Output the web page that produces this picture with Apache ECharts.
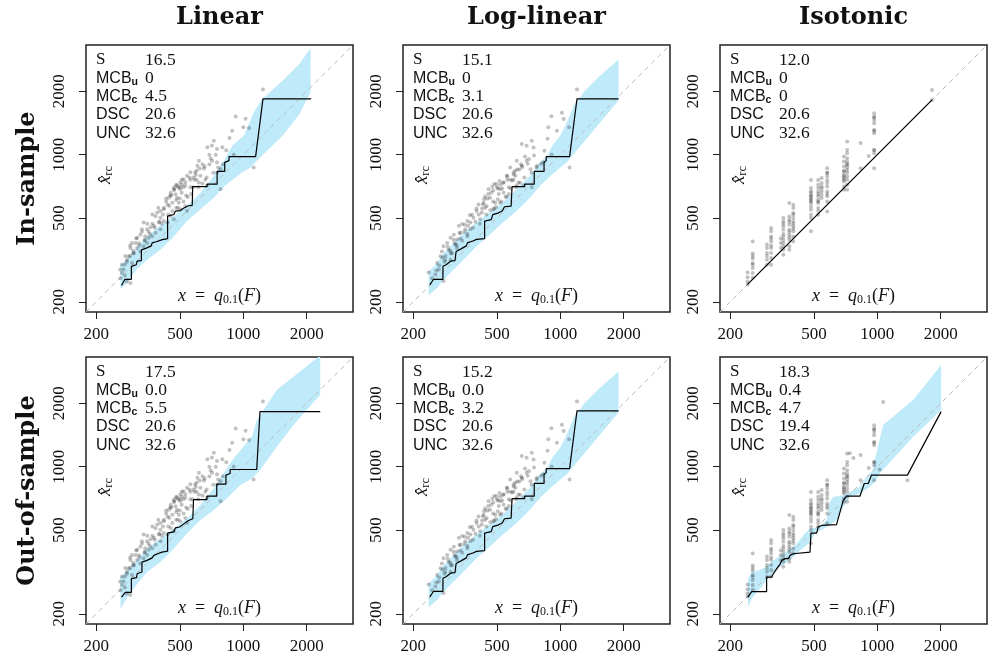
<!DOCTYPE html>
<html><head><meta charset="utf-8">
<script src="https://cdn.jsdelivr.net/npm/echarts@6/dist/echarts.min.js"></script>
<style>html,body{margin:0;padding:0;background:#fff}#c{width:992px;height:659px}</style>
</head><body><div id="c"></div>
<script>
// ---------- labels ----------
const colTitles = ['Linear', 'Log-linear', 'Isotonic'];
const rowTitles = ['In-sample', 'Out-of-sample'];
const tickValues = [200, 500, 1000, 2000];
const statNames = ['S', 'MCB_u', 'MCB_c', 'DSC', 'UNC'];
const statsLinIn  = ['16.5', '0',   '4.5', '20.6', '32.6'];
const statsLlIn   = ['15.1', '0',   '3.1', '20.6', '32.6'];
const statsIsoIn  = ['12.0', '0',   '0',   '20.6', '32.6'];
const statsLinOut = ['17.5', '0.0', '5.5', '20.6', '32.6'];
const statsLlOut  = ['15.2', '0.0', '3.2', '20.6', '32.6'];
const statsIsoOut = ['18.3', '0.4', '4.7', '19.4', '32.6'];

// ---------- scatter: (forecast quantile, observation) ----------
const linPts = [[1240,2040],[920,1520],[1025,1480],[1065,1340],[1000,1350],[885,1300],[725,1165],[710,1105],[795,1085],[675,1085],[750,1065],[750,920],[711,937],[615,937],[605,885],[560,825],[580,780],[540,795],[520,765],[502,738],[530,713],[590,823],[626,794],[615,738],[485,713],[468,686],[502,686],[452,660],[476,648],[485,625],[444,625],[460,592],[494,592],[437,580],[419,550],[404,540],[390,531],[383,510],[404,502],[419,484],[397,477],[376,460],[363,452],[349,442],[336,477],[330,442],[324,417],[342,410],[355,403],[313,403],[308,381],[296,381],[291,360],[313,360],[324,347],[302,340],[285,329],[280,317],[296,306],[274,301],[270,285],[265,274],[261,259],[274,267],[280,250],[291,246],[1120,870],[780,686],[673,713],[751,823],[780,854],[530,570],[540,540],[502,550],[452,511],[468,494],[437,477],[404,442],[383,426],[369,410],[349,381],[336,367],
 [470,680],[490,700],[510,720],[455,640],[520,700],[430,600],[445,570],[415,520],[400,480],[370,470],[355,430],[340,395],[320,380],[300,350],[290,330],[560,760],[600,760],[650,860],[690,1000],[560,700],[600,840],[640,900],[660,760],[480,610],[510,660],[535,640],
 [440,520],[450,640],[460,540],[470,700],[480,720],[490,560],[500,700],[510,760],[520,600],[530,740],[545,630],[555,780],[565,650],[575,700],[585,760],[595,800],[610,700],[620,860],[640,730],[655,880],[670,780],[690,900],[700,960],[720,820],[740,1000],[760,870],[800,900],[830,1050],[860,1200],[900,1000],[420,560],[430,620],[410,470],[395,560],[380,450],[370,520],[360,420],[350,470],[340,390],[330,430],[320,370],[310,400],[300,340],[290,370],[280,310],[275,330],[265,300],[260,285],[480,560],[500,620]];
const llPts = [[1200,2040],[907,1523],[1018,1580],[1037,1479],[877,1350],[964,1301],[1100,1350],[732,1166],[692,1104],[746,1083],[656,1125],[621,937],[692,937],[656,886],[578,870],[600,823],[557,794],[612,794],[578,760],[632,738],[538,738],[498,725],[517,686],[480,676],[456,686],[538,660],[439,633],[464,625],[432,592],[491,592],[447,570],[409,580],[400,540],[424,531],[381,519],[387,502],[374,477],[362,484],[342,468],[330,460],[354,442],[336,426],[312,417],[301,403],[323,396],[318,374],[290,381],[279,367],[295,354],[306,340],[274,347],[270,329],[284,317],[260,306],[265,285],[255,270],[246,259],[237,276],[279,251],[1107,870],[831,920],[775,886],[722,854],[670,713],[732,700],[621,713],[557,633],[517,592],[480,550],[416,494],[374,442],[362,410],[323,360],[301,317],
 [470,660],[500,700],[520,720],[450,620],[530,690],[430,580],[440,560],[410,520],[395,480],[365,460],[350,430],[335,400],[315,380],[300,350],[285,330],[560,760],[600,760],[640,850],[680,980],[570,700],[610,840],[650,900],[480,600],[510,650],
 [445,520],[455,650],[465,545],[475,705],[485,725],[495,565],[505,690],[515,750],[525,600],[535,735],[550,630],[560,790],[570,650],[580,690],[590,755],[600,805],[615,700],[625,850],[645,735],[660,875],[675,780],[700,905],[710,955],[730,820],[750,990],[770,870],[810,905],[840,1045],[870,1190],[910,1000],[425,555],[435,615],[415,470],[400,555],[385,450],[372,515],[362,420],[352,465],[342,390],[332,425],[322,370],[311,395],[302,340],[292,365],[282,310],[276,325],[266,298],[258,282],[485,555],[505,615]];
// isotonic forecasts take few distinct values: stripes
const isoStripeX = [242,256,299,313,348,358,382,399,484,524,544,578,694,719,833,911,966];
const isoStripeY = [
 [276,250,242,262],
 [387,339,321,306,290,274,260,330,300],
 [374,360,341,317,300,330],
 [449,433,409,387,360,341,323,300,400,370],
 [381,360,400],
 [482,457,440,409,395,381,367,354,335,420,500,470],
 [589,509,491,465,440,417,395,367,354,480,430,405],
 [578,558,528,500,482,457,433,409,387,520,470,445],
 [759,694,657,634,611,589,568,548,519,500,433,640,620,600,670],
 [759,719,694,669,634,611,589,558,519,650,600,540],
 [774,733,706,669,645,622,690],
 [863,818,759,733,706,669,634,600,538,820,790,650],
 [980,928,878,832,802,774,745,706,681,840,790,760],
 [1154,1054,1016,962,928,895,847,787,719,681,870,820,900,760],
 [1135,863],
 [987],
 [1573,1516,1462,1410,1311,1264,1054,1016,863,1300,1500,1050]
];
const isoInExtra  = [[1820,2030],[1820,1820]];
const isoOutExtra = [[1066,2030],[1390,862],[1026,970],[741,1158],[770,1100]];

// ---------- recalibration curves ----------
const linInStep = [[264,239],[274,256],[294,256],[294,295],[310,300],[313,312],[328,314],[328,353],[346,360],[365,369],[369,381],[390,387],[412,395],[437,399],[437,511],[468,520],[476,540],[502,543],[520,557],[548,572],[572,575],[575,706],[673,706],[673,724],[751,724],[751,833],[816,833],[816,920],[855,937],[855,979],[1144,979],[1240,1842],[2100,1842]];
const linOutStep = [[264,240],[275,253],[294,253],[294,294],[311,297],[313,310],[330,316],[330,352],[349,359],[369,369],[376,379],[392,386],[411,393],[437,397],[437,484],[467,490],[476,512],[498,517],[530,541],[549,555],[576,566],[580,698],[672,698],[672,724],[748,724],[748,826],[827,826],[827,912],[866,928],[866,970],[1158,970],[1200,1826],[2320,1826]];
const llStep = [[240,241],[250,256],[277,256],[277,295],[287,300],[301,312],[316,314],[320,347],[336,356],[358,369],[362,381],[387,390],[400,396],[437,399],[437,484],[470,492],[478,519],[505,528],[530,540],[543,566],[584,570],[590,706],[677,706],[677,724],[752,724],[752,833],[837,833],[837,920],[857,937],[857,979],[1107,979],[1200,1842],[1890,1842]];
const isoInStep = [[242,242],[1820,1820]];
const isoOutStep = [[243,240],[253,255],[298,255],[298,299],[315,299],[321,310],[333,328],[345,344],[352,359],[365,366],[378,366],[385,379],[399,386],[405,393],[479,393],[484,484],[515,484],[524,517],[544,526],[640,531],[689,692],[714,724],[827,724],[867,832],[906,832],[938,912],[1390,912],[2010,1826]];

// ---------- consistency bands (upper / lower edges) ----------
const linInHi = [[261,300],[280,317],[313,360],[349,410],[404,460],[468,511],[540,570],[626,660],[724,794],[809,937],[886,1103],[1007,1232],[1123,1590],[1210,1809],[1540,2250],[1850,2700],[2088,3204]];
const linInLo = [[261,230],[280,245],[313,287],[349,317],[404,354],[468,410],[540,484],[626,550],[724,625],[820,713],[985,823],[1083,870],[1160,937],[1540,1232],[1850,1560],[2088,1980]];
const linOutHi = [[261,299],[281,321],[313,359],[349,408],[403,455],[467,508],[540,567],[624,656],[722,786],[806,928],[898,1094],[1002,1244],[1098,1386],[1158,1664],[1442,2312],[1730,2672],[2320,3380]];
const linOutLo = [[261,211],[281,240],[313,277],[349,316],[403,352],[467,408],[540,481],[624,557],[722,621],[834,706],[966,816],[1098,878],[1200,963],[1442,1244],[1730,1576],[2320,2194]];
const llHi = [[237,279],[260,306],[279,340],[312,381],[347,424],[400,477],[462,531],[532,592],[620,686],[718,794],[804,920],[866,990],[916,1103],[1000,1232],[1075,1427],[1160,1712],[1290,1980],[1550,2376],[1890,2830]];
const llLo = [[237,215],[260,233],[279,255],[312,285],[347,317],[400,367],[462,417],[532,475],[620,540],[718,625],[804,713],[900,794],[1000,870],[1075,920],[1290,1145],[1550,1427],[1890,1810]];
const isoOutHi = [[243,294],[253,316],[277,324],[298,334],[321,359],[345,379],[371,393],[414,431],[445,472],[479,508],[534,517],[574,557],[595,680],[617,719],[689,730],[741,759],[827,802],[888,895],[952,963],[972,1074],[1066,1576],[1480,2074],[2010,3040]];
const isoOutLo = [[243,215],[253,236],[277,263],[298,288],[321,310],[345,334],[371,352],[399,372],[429,400],[462,423],[487,447],[506,481],[534,498],[574,517],[640,557],[689,644],[741,719],[827,745],[922,802],[972,847],[1026,928],[1480,1386],[2010,1860]];

// ---------- build ----------
const lg = v => Math.log10(v);
const AX_MIN = lg(179), AX_MAX = lg(3319);
const GRID_LEFT = [86, 403, 720], GRID_TOP = [45, 357], GRID_SIZE = 267;
const BAND = '#bfeafa';
const SERIF = "'Liberation Serif','DejaVu Serif',serif";
const SANS = "'Liberation Sans','DejaVu Sans',sans-serif";
const INK = '#111';

const isoPts = [];
isoStripeX.forEach((x, k) => isoStripeY[k].forEach(y => isoPts.push([x, y])));

const panels = [
  {pts: linPts, step: linInStep, hi: linInHi, lo: linInLo, stats: statsLinIn},
  {pts: llPts, step: llStep, hi: llHi, lo: llLo, stats: statsLlIn},
  {pts: isoPts.concat(isoInExtra), step: isoInStep, hi: null, lo: null, stats: statsIsoIn},
  {pts: linPts, step: linOutStep, hi: linOutHi, lo: linOutLo, stats: statsLinOut},
  {pts: llPts, step: llStep, hi: llHi, lo: llLo, stats: statsLlOut},
  {pts: isoPts.concat(isoOutExtra), step: isoOutStep, hi: isoOutHi, lo: isoOutLo, stats: statsIsoOut}
];

const tickLog = tickValues.map(lg);
const toLog = arr => arr.map(q => [lg(q[0]), lg(q[1])]);
const grids = [], xAxes = [], yAxes = [], series = [], graphics = [];

function txt(x, y, text, font, opts) {
  return Object.assign({type: 'text', x: x, y: y, silent: true,
    style: Object.assign({text: text, font: font, fill: INK,
      align: 'center', verticalAlign: 'middle', textAlign: 'center', textVerticalAlign: 'middle'}, (opts && opts.style) || {})},
    (opts && opts.el) || {});
}

const statRich = {
  sf: {fontFamily: SERIF, fontSize: 17, fill: INK, lineHeight: 18},
  ss: {fontFamily: SANS, fontSize: 16, fill: INK, lineHeight: 18},
  sub: {fontFamily: SANS, fontSize: 10.5, fontWeight: 'bold', fill: INK, lineHeight: 19, verticalAlign: 'bottom'}
};
const statLabel = n => n === 'S' ? '{sf|S}' : (n.indexOf('_') > 0 ? '{ss|' + n.split('_')[0] + '}{sub|' + n.split('_')[1] + '}' : '{ss|' + n + '}');

panels.forEach((p, i) => {
  const r = Math.floor(i / 3), c = i % 3;
  const L = GRID_LEFT[c], T = GRID_TOP[r];
  grids.push({left: L, top: T, width: GRID_SIZE, height: GRID_SIZE, show: true,
    borderColor: '#222', borderWidth: 1.5, backgroundColor: 'transparent', containLabel: false});
  const common = {type: 'value', gridIndex: i, min: AX_MIN, max: AX_MAX,
    splitLine: {show: false}, axisLine: {show: false},
    axisTick: {show: true, length: 7, customValues: tickLog, lineStyle: {color: '#222', width: 1}}};
  const lab = {customValues: tickLog, formatter: v => String(Math.round(Math.pow(10, v))),
    fontFamily: SERIF, fontSize: 17, color: INK};
  xAxes.push(Object.assign({}, common, {axisLabel: Object.assign({}, lab, {margin: 14})}));
  yAxes.push(Object.assign({}, common, {axisLabel: Object.assign({}, lab, {rotate: 90, margin: 18})}));

  if (p.hi) {
    const hi = p.hi, lo = p.lo;
    series.push({type: 'custom', xAxisIndex: i, yAxisIndex: i, clip: true, silent: true, z: 1,
      data: [[lg(500), lg(500)]],
      renderItem: (params, api) => ({
        type: 'polygon',
        shape: {points: toLog(hi).map(q => api.coord(q)).concat(toLog(lo).reverse().map(q => api.coord(q)))},
        style: {fill: BAND}
      })});
  }
  series.push({type: 'line', xAxisIndex: i, yAxisIndex: i, z: 2, silent: true, symbol: 'none',
    data: [[AX_MIN, AX_MIN], [AX_MAX, AX_MAX]], lineStyle: {color: '#bdbdbd', width: 1, type: [5, 4]}});
  series.push({type: 'scatter', xAxisIndex: i, yAxisIndex: i, z: 3, silent: true,
    data: toLog(p.pts), symbolSize: 4, itemStyle: {color: 'rgba(0,0,0,0.3)'}});
  series.push({type: 'line', xAxisIndex: i, yAxisIndex: i, z: 4, silent: true, symbol: 'none',
    data: toLog(p.step), lineStyle: {color: '#000', width: 1.2}});

  // stats block
  statNames.forEach((n, k) => {
    const y = T + 15 + k * 18.3;
    graphics.push({type: 'text', x: L + 10, y: y, silent: true,
      style: {text: statLabel(n), rich: statRich, fill: INK,
        align: 'left', verticalAlign: 'middle', textAlign: 'left', textVerticalAlign: 'middle'}});
    graphics.push(txt(L + 59, y, p.stats[k], '17.5px ' + SERIF,
      {style: {align: 'left', textAlign: 'left'}}));
  });
  // x = q_0.1(F)
  graphics.push({type: 'text', x: L + 133.5, y: T + 251, silent: true,
    style: {text: '{i|x}{r|\u2002=\u2002}{i|q}{s|0.1}{r|(}{i|F}{r|)}',
      rich: {
        i: {fontFamily: SERIF, fontStyle: 'italic', fontSize: 18, fill: INK, lineHeight: 20},
        r: {fontFamily: SERIF, fontSize: 18, fill: INK, lineHeight: 20},
        s: {fontFamily: SERIF, fontSize: 12, fill: INK, lineHeight: 20, verticalAlign: 'bottom'}
      },
      align: 'center', verticalAlign: 'middle', textAlign: 'center', textVerticalAlign: 'middle'}});
  // x-hat rc
  graphics.push({type: 'text', x: L + 19, y: T + 130, rotation: Math.PI / 2, silent: true,
    style: {text: '{i|x\u0302}{s|rc}',
      rich: {
        i: {fontFamily: SERIF, fontStyle: 'italic', fontSize: 19, fill: INK, lineHeight: 20},
        s: {fontFamily: SERIF, fontSize: 12.5, fill: INK, lineHeight: 20, verticalAlign: 'bottom'}
      },
      align: 'center', verticalAlign: 'middle', textAlign: 'center', textVerticalAlign: 'middle'}});
});

colTitles.forEach((t, c) => graphics.push(txt(GRID_LEFT[c] + GRID_SIZE / 2, 18, t, 'bold 24px ' + "'DejaVu Serif',serif")));
rowTitles.forEach((t, r) => graphics.push(txt(28, GRID_TOP[r] + GRID_SIZE / 2, t, 'bold 24px ' + "'DejaVu Serif',serif",
  {el: {rotation: Math.PI / 2}})));

const chart = echarts.init(document.getElementById('c'), null, {renderer: 'canvas'});
chart.setOption({
  animation: false,
  backgroundColor: '#fff',
  grid: grids, xAxis: xAxes, yAxis: yAxes, series: series, graphic: graphics
});
</script></body></html>
